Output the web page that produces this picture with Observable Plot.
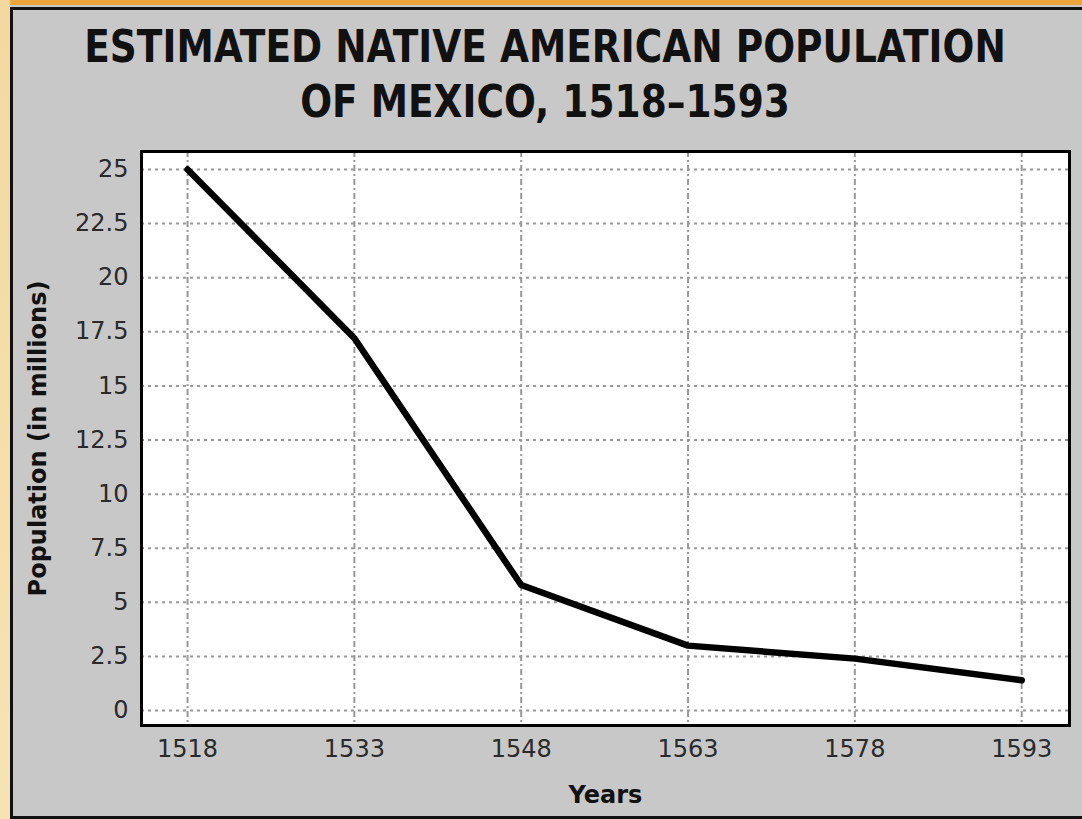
<!DOCTYPE html>
<html><head><meta charset="utf-8">
<script src="https://cdn.jsdelivr.net/npm/d3@7"></script>
<script src="https://cdn.jsdelivr.net/npm/@observablehq/plot@0.6"></script>
<style>
html,body{margin:0;padding:0;}
body{width:1082px;height:819px;overflow:hidden;position:relative;background:#c8c8c8;font-family:"DejaVu Sans",sans-serif;}
#orangeTop{position:absolute;left:0;top:0;width:1082px;height:5px;background:#eba43a;}
#orangeLeft{position:absolute;left:0;top:0;width:10px;height:819px;background:linear-gradient(#f3d9a0,#f6e3b4);}
#border{position:absolute;left:10px;top:7px;width:1072px;height:812px;border-left:3px solid #111;border-top:3px solid #111;border-bottom:3px solid #111;box-sizing:border-box;}
.t{position:absolute;left:0;width:1082px;padding-left:8px;box-sizing:border-box;text-align:center;font-weight:bold;font-size:37.5px;line-height:40px;color:#111;transform:scaleY(1.2);transform-origin:50% 100%;white-space:nowrap;}
#t1{top:30px;}
#t2{top:85px;}
#chart{position:absolute;left:0;top:140px;}
g[aria-label="y-axis label"] text, g[aria-label="x-axis label"] text{font-weight:bold;font-size:24px;fill:#111;}
</style></head><body>
<div id="orangeTop"></div><div id="orangeLeft"></div><div id="border"></div>
<div class="t" id="t1">ESTIMATED NATIVE AMERICAN POPULATION</div>
<div class="t" id="t2">OF MEXICO, 1518–1593</div>
<div id="chart"></div>
<script>
const years = [1518, 1533, 1548, 1563, 1578, 1593];
const population = [25, 17.2, 5.8, 3.0, 2.4, 1.4];
const yTicks = [0, 2.5, 5, 7.5, 10, 12.5, 15, 17.5, 20, 22.5, 25];
const yTickLabels = ["0", "2.5", "5", "7.5", "10", "12.5", "15", "17.5", "20", "22.5", "25"];
const xTickLabels = ["1518", "1533", "1548", "1563", "1578", "1593"];

const data = years.map((year, i) => ({year, pop: population[i]}));

const chart = Plot.plot({
  width: 1082,
  height: 680,
  marginLeft: 141,
  marginRight: 13,
  marginTop: 11,
  marginBottom: 95,
  x: {domain: [1513.86, 1597.3]},
  y: {domain: [-0.69, 25.83]},
  style: {background: "transparent", fontFamily: "DejaVu Sans", color: "#2a2a2a", overflow: "visible"},
  marks: [
    Plot.frame({fill: "white"}),
    Plot.gridY(yTicks, {stroke: "#999", strokeOpacity: 1, strokeWidth: 2, strokeDasharray: "3,4"}),
    Plot.gridX(years, {stroke: "#999", strokeOpacity: 1, strokeWidth: 2, strokeDasharray: "6,3,2,3"}),
    Plot.line(data, {x: "year", y: "pop", stroke: "black", strokeWidth: 6.5}),
    Plot.frame({stroke: "#000", strokeWidth: 3}),
    Plot.axisY(yTicks, {
      tickSize: 0, tickPadding: 13, fontSize: 24,
      tickFormat: d => yTickLabels[yTicks.indexOf(d)],
      label: "Population (in millions)", labelAnchor: "center", labelOffset: 113, labelArrow: "none"
    }),
    Plot.axisX(years, {
      tickSize: 0, tickPadding: 14, fontSize: 24,
      tickFormat: d => xTickLabels[years.indexOf(d)],
      label: "Years", labelAnchor: "center", labelOffset: 77, labelArrow: "none"
    })
  ]
});
document.getElementById("chart").appendChild(chart);
</script>
</body></html>
